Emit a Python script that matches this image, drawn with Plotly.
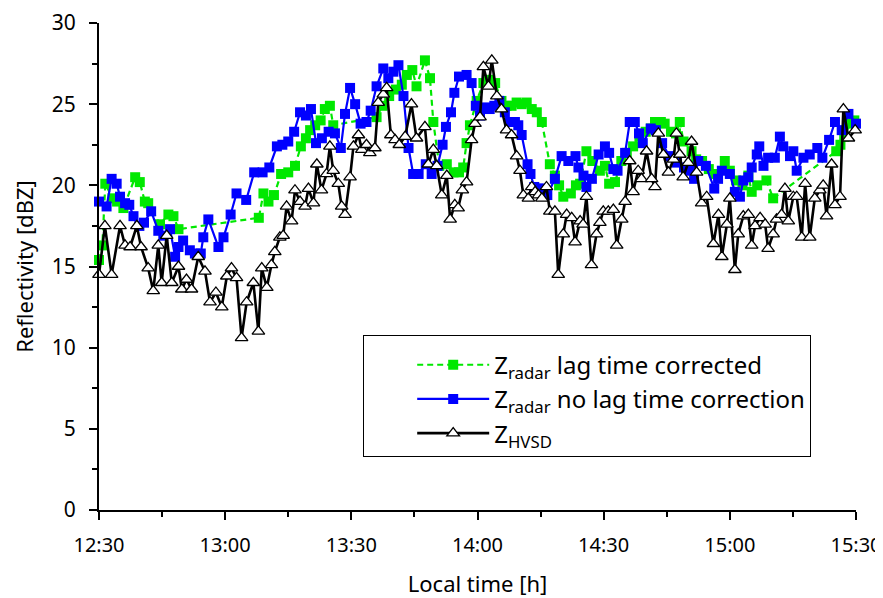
import pandas as pd
import plotly.graph_objects as go

# ---------------- data (minutes after 12:30 local time, reflectivity in dBZ) ----------------
hvsd_min = [
    0, 1.4, 3, 5, 6.2, 7.4, 9, 10, 11.7, 12.9,
    14.1, 14.9, 16.1, 17.3, 18.9, 19.7, 20.8, 22, 23.6, 25.2,
    26.4, 27.8, 29.2, 30.4, 31.5, 32.7, 33.9, 35.1, 36.7, 37.9,
    38.7, 39.9, 41, 41.8, 43, 43.8, 44.6, 45.8, 46.6, 47.8,
    49, 49.8, 51, 51.8, 52.9, 54.1, 54.9, 55.7, 56.9, 57.7,
    58.5, 59.7, 60.5, 61.7, 62.5, 63.6, 64.4, 65.6, 66.4, 67.6,
    68.4, 69.4, 70.4, 71.4, 72.8, 74.3, 75.5, 77.5, 78.3, 79.5,
    80.3, 81.5, 82.7, 83.5, 84.6, 85.4, 86.4, 87.4, 88.6, 89.4,
    90.6, 91.4, 92.6, 93.4, 94.6, 95.7, 96.9, 98.1, 99.3, 100.1,
    100.9, 102.1, 102.9, 103.7, 104.5, 105.3, 106.4, 107.2, 108.4, 109.2,
    110.4, 111.2, 112.4, 113.2, 114.4, 115.1, 115.9, 117.1, 118.3, 119.1,
    119.9, 121.1, 122.3, 123.1, 124.3, 125.1, 126.2, 127, 128.2, 129,
    130.2, 131.4, 132.2, 133, 134.2, 135.4, 136.6, 137.3, 138.1, 138.9,
    140.1, 140.9, 142.1, 143.3, 144.5, 146.1, 147.3, 148.1, 149.3, 150,
    151.2, 152, 153.2, 154.4, 155.2, 156, 157.2, 158.4, 159.1, 160.3,
    161.1, 162.3, 163.1, 163.9, 165.1, 165.9, 167.1, 167.9, 169, 170.2,
    171.4, 172.2, 173, 174.2, 175, 176.2, 177, 178.2, 179.8,
]
hvsd_dbz = [
    14.5, 17.5, 14.5, 17.5, 16.3, 16.2, 17.5, 16.2, 14.9, 13.5,
    16.3, 14.0, 16.9, 14.0, 15.0, 13.6, 14.2, 13.6, 15.6, 14.7,
    12.8, 13.4, 12.5, 14.4, 14.9, 14.3, 10.6, 12.8, 14.0, 11.0,
    14.9, 13.7, 15.1, 15.9, 16.8, 16.9, 18.7, 17.8, 19.7, 19.0,
    18.7, 19.8, 18.9, 21.3, 19.7, 20.7, 22.4, 20.9, 20.1, 18.7,
    18.2, 20.5, 22.4, 23.1, 22.2, 22.5, 22.0, 22.3, 25.1, 25.6,
    26.0, 23.1, 22.8, 22.5, 23.0, 25.0, 22.9, 23.6, 21.3, 22.2,
    21.2, 19.4, 20.6, 17.9, 18.8, 18.6, 19.7, 20.2, 22.8, 23.8,
    24.2, 27.3, 26.1, 27.7, 25.5, 24.7, 23.4, 23.1, 21.8, 20.9,
    19.4, 19.2, 19.9, 19.6, 19.4, 19.2, 19.9, 18.4, 18.4, 14.5,
    17.0, 18.2, 18.0, 16.5, 17.8, 17.6, 19.3, 15.1, 17.0, 17.7,
    18.4, 18.4, 18.5, 16.3, 17.9, 19.0, 21.5, 19.6, 20.9, 20.4,
    22.1, 20.4, 19.9, 23.2, 21.9, 20.8, 21.6, 23.2, 21.9, 20.5,
    21.4, 22.7, 20.8, 18.9, 19.3, 16.4, 18.2, 15.6, 17.6, 19.2,
    14.8, 17.0, 18.1, 18.2, 16.3, 17.5, 18.0, 17.6, 16.1, 17.0,
    17.9, 18.2, 19.8, 17.8, 19.3, 19.3, 16.8, 20.1, 16.8, 19.2,
    19.7, 20.0, 18.1, 21.3, 18.8, 19.3, 24.7, 22.9, 23.4,
]

nolag_min = [
    0, 1.8, 3, 4.2, 5, 6.2, 7.2, 8.2, 9.6, 10.7,
    12.4, 14.1, 15.3, 16.9, 18.1, 18.9, 20, 21.6, 22.8, 24.2,
    24.8, 26, 28.4, 29.6, 31.3, 32.7, 35, 36.9, 38.9, 40.5,
    42.3, 43.6, 45, 46.4, 47.8, 49.2, 50.4, 51.6, 53, 54.6,
    56.1, 57.5, 58.5, 59.7, 60.9, 62.2, 63.6, 64.6, 66, 67.6,
    68.8, 70, 71.2, 72.4, 73.6, 74.7, 76, 77.7, 79.1, 80.5,
    81.7, 82.5, 83.7, 84.5, 85.6, 87.4, 88.6, 89.6, 90.6, 91.8,
    92.9, 94, 95.2, 96.5, 97.7, 98.9, 99.7, 100.5, 101.9, 102.6,
    103.5, 104.5, 105.5, 106.6, 108.4, 110, 111.6, 113.3, 114, 115.2,
    115.9, 117.2, 118.8, 120.3, 121.3, 122.3, 123.3, 125.1, 126.2, 127.4,
    128.4, 129.3, 131.2, 132.4, 133.9, 135.6, 137.4, 139.1, 140.5, 141.5,
    142.5, 144.3, 146.3, 147.2, 148.1, 150, 151.2, 152.4, 153.2, 154.4,
    155.2, 156.4, 157, 158, 159.1, 160.7, 161.9, 162.7, 164.3, 165.1,
    165.9, 167.5, 169, 170.8, 172, 173.6, 175, 176.6, 178.2, 180,
]
nolag_dbz = [
    19.0, 18.7, 20.4, 20.1, 19.3, 18.9, 18.8, 18.1, 17.5, 17.7,
    18.4, 17.2, 16.9, 17.3, 15.6, 16.2, 16.6, 16.0, 15.8, 15.8,
    16.8, 17.9, 16.2, 16.8, 18.2, 19.5, 19.1, 20.8, 20.8, 21.1,
    22.4, 22.5, 22.7, 23.3, 24.5, 24.3, 24.7, 22.6, 22.9, 23.3,
    23.2, 22.3, 24.4, 26.0, 25.0, 23.8, 23.9, 24.6, 26.1, 27.2,
    26.6, 27.0, 27.4, 25.5, 22.3, 20.7, 20.7, 21.3, 20.7, 21.2,
    22.5, 23.6, 24.5, 25.7, 26.7, 26.8, 26.3, 24.9, 24.3, 24.8,
    24.7, 24.9, 25.2, 24.5, 23.9, 23.9, 23.7, 23.1, 21.3, 20.7,
    19.9, 19.8, 19.8, 19.4, 20.4, 21.8, 21.5, 21.8, 21.1, 20.6,
    19.9, 20.4, 21.9, 22.4, 22.0, 21.0, 20.9, 22.0, 23.9, 23.9,
    23.2, 22.6, 23.5, 23.4, 22.6, 21.8, 21.4, 21.1, 20.9, 20.4,
    21.5, 21.2, 19.8, 20.4, 20.9, 20.7, 19.6, 19.3, 20.3, 20.5,
    21.1, 21.9, 22.4, 21.2, 21.7, 21.7, 23.0, 22.4, 21.8, 22.1,
    20.9, 21.7, 21.9, 22.3, 21.7, 22.8, 23.9, 23.4, 24.4, 23.8,
]

lag_min = [
    0, 0.8, 1.5, 3.2, 4.3, 5.8, 8.6, 9.7, 10.9, 11.7,
    14.5, 16.5, 17.7, 18.9, 38, 39.1, 40.3, 41.6, 43.3, 45,
    46.6, 48, 49.2, 50.2, 51.4, 52.7, 53.7, 54.9, 55.7, 66,
    67.4, 69, 70.6, 72, 73.2, 74.5, 75.5, 77.5, 78.7, 79.5,
    80.9, 82.7, 84.3, 85.6, 86.6, 87.4, 88.2, 89.8, 91.4, 92.6,
    94.2, 95.7, 96.9, 98.1, 99.3, 100.5, 101.7, 102.9, 104.1, 105.3,
    107.2, 108.4, 109.4, 110.4, 112.2, 113.4, 114.4, 115.9, 117.3, 119.1,
    120.3, 121.3, 122.7, 124.2, 125.5, 127, 128.5, 130, 131.2, 132.2,
    133.6, 134.5, 136, 137.2, 138.1, 139, 140.9, 142, 143.4, 145,
    146.5, 148.8, 150, 151.5, 153, 154.4, 155.2, 156.5, 158.7, 160.3,
    175.3, 176.3, 177.2, 178.6, 179.6,
]
lag_dbz = [
    15.4, 16.3, 20.1, 19.2, 19.0, 18.6, 20.5, 20.2, 19.0, 18.9,
    17.6, 18.2, 18.1, 17.3, 18.0, 19.5, 19.0, 19.4, 20.7, 20.8,
    21.2, 22.4, 22.9, 23.4, 23.7, 24.0, 24.7, 24.9, 23.7, 24.2,
    24.9, 25.5, 25.9, 26.2, 26.8, 27.1, 26.1, 27.7, 26.6, 23.9,
    21.2, 21.3, 20.8, 20.8, 21.1, 22.6, 23.7, 25.2, 26.3, 26.5,
    26.3, 25.2, 24.9, 24.9, 25.1, 25.0, 25.1, 24.7, 24.5, 23.9,
    21.3, 20.6, 20.0, 19.3, 19.5, 20.0, 20.1, 22.1, 21.5, 20.9,
    21.2, 20.1, 20.2, 21.5, 22.0, 22.4, 23.0, 23.3, 23.5, 23.9,
    23.9, 23.8, 23.3, 23.2, 23.9, 22.7, 22.1, 21.6, 21.5, 21.0,
    20.7, 21.5, 20.9, 20.3, 20.0, 20.6, 19.6, 20.0, 20.3, 19.2,
    22.1, 22.5, 23.0, 23.8, 24.0,
]

start_time = "2000-01-01 12:30"
end_time = "2000-01-01 15:30"


def to_time(minutes):
    return pd.Timestamp(start_time) + pd.to_timedelta(minutes, unit="min")


FONT = "Noto Sans"

fig = go.Figure()

fig.add_trace(go.Scatter(
    x=to_time(lag_min), y=lag_dbz, mode="lines+markers",
    name="Z<sub>radar</sub> lag time corrected",
    line=dict(color="#00e800", width=2.2, dash="6px,4px"),
    marker=dict(symbol="square", size=10, color="#00e800"),
    cliponaxis=False,
))
fig.add_trace(go.Scatter(
    x=to_time(nolag_min), y=nolag_dbz, mode="lines+markers",
    name="Z<sub>radar</sub> no lag time correction",
    line=dict(color="#0000ff", width=2.2),
    marker=dict(symbol="square", size=10, color="#0000ff"),
    cliponaxis=False,
))
fig.add_trace(go.Scatter(
    x=to_time(hvsd_min), y=hvsd_dbz, mode="lines+markers",
    name="Z<sub>HVSD</sub>",
    line=dict(color="black", width=2.6),
    marker=dict(symbol="triangle-up", size=11, color="white",
                line=dict(color="black", width=1.3)),
    cliponaxis=False,
))

# The page body has an 8px default margin, so the figure is sized to fit the window.
fig.update_layout(
    width=875, height=590,
    margin=dict(l=91, r=27, t=15, b=88, autoexpand=False),
    plot_bgcolor="white", paper_bgcolor="white",
    font=dict(family=FONT, color="black", size=21),
    showlegend=True,
    legend=dict(
        x=0.349, y=0.359, xanchor="left", yanchor="top",
        bordercolor="black", borderwidth=1, bgcolor="white",
        font=dict(family=FONT, size=24, color="black"),
        title=dict(text=" ", font=dict(size=5)),
        indentation=48, itemwidth=72, tracegroupgap=0,
    ),
)

fig.update_xaxes(
    type="date", automargin=False,
    range=[start_time, end_time],
    tick0=start_time, dtick=30 * 60 * 1000, tickformat="%H:%M",
    ticks="outside", ticklen=8, tickwidth=2, tickcolor="black",
    ticklabelstandoff=8,
    minor=dict(dtick=15 * 60 * 1000, ticks="outside", ticklen=5,
               tickwidth=2, tickcolor="black", showgrid=False),
    showline=True, linewidth=2, linecolor="black",
    showgrid=False, zeroline=False,
    tickfont=dict(size=20),
    title=dict(text="Local time [h]", font=dict(size=22), standoff=21),
)
fig.update_yaxes(
    automargin=False,
    range=[0, 30], dtick=5, tick0=0,
    ticks="outside", ticklen=8, tickwidth=2, tickcolor="black",
    ticklabelstandoff=9,
    minor=dict(dtick=2.5, ticks="outside", ticklen=5, tickwidth=2,
               tickcolor="black", showgrid=False),
    showline=True, linewidth=2, linecolor="black",
    showgrid=False, zeroline=False,
    tickfont=dict(size=21),
    title=dict(text="Reflectivity [dBZ]", font=dict(size=22), standoff=12),
)

fig.write_html("out.html")
